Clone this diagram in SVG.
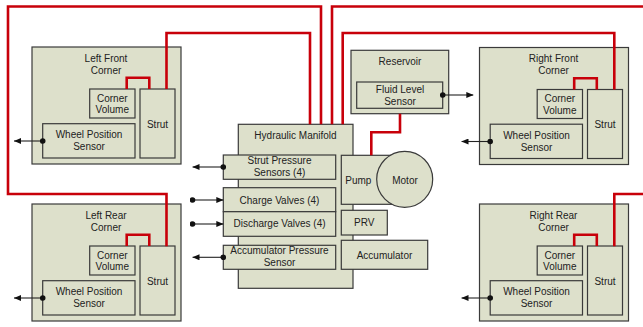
<svg xmlns="http://www.w3.org/2000/svg" width="643" height="327" viewBox="0 0 643 327">
<style>
.b{fill:#dde0cb;stroke:#3a3a3a;stroke-width:1.2}
.t{font-family:"Liberation Sans",Arial,sans-serif;font-size:10px;fill:#222;text-anchor:middle}
.r{fill:none;stroke:#c8000a;stroke-width:2.6;stroke-linejoin:miter}
.s{fill:none;stroke:#222;stroke-width:1.1;marker-start:url(#dot);marker-end:url(#arr)}
</style>
<defs>
<marker id="arr" viewBox="0 0 7 6" refX="7" refY="3" markerWidth="7" markerHeight="6" markerUnits="userSpaceOnUse" orient="auto"><path d="M0,0 L7,3 L0,6 z" fill="#111"/></marker>
<marker id="dot" viewBox="0 0 6 6" refX="3" refY="3" markerWidth="6" markerHeight="6" markerUnits="userSpaceOnUse" orient="auto"><circle cx="3" cy="3" r="2.8" fill="#111"/></marker>
<g id="corner">
<rect class="b" x="32" y="47" width="149" height="117"/>
<rect class="b" x="89.7" y="89" width="45.3" height="29"/>
<text class="t" x="112.3" y="101.5">Corner</text>
<text class="t" x="112.3" y="113">Volume</text>
<rect class="b" x="140" y="89" width="35" height="69"/>
<text class="t" x="157.5" y="127.5">Strut</text>
<rect class="b" x="42.7" y="123.7" width="92.3" height="34.3"/>
<text class="t" x="89" y="138">Wheel Position</text>
<text class="t" x="89" y="150">Sensor</text>
</g>
</defs>
<g id="left-front">
<use href="#corner"/>
<text class="t" x="106" y="61.5">Left Front</text>
<text class="t" x="106" y="73.5">Corner</text>
</g>
<g id="left-rear" transform="translate(0,157)">
<use href="#corner"/>
<text class="t" x="106" y="61.5">Left Rear</text>
<text class="t" x="106" y="73.5">Corner</text>
</g>
<g id="right-front" transform="translate(447.5,0.5)">
<use href="#corner"/>
<text class="t" x="106" y="61.5">Right Front</text>
<text class="t" x="106" y="73.5">Corner</text>
</g>
<g id="right-rear" transform="translate(447.5,157)">
<use href="#corner"/>
<text class="t" x="106" y="61.5">Right Rear</text>
<text class="t" x="106" y="73.5">Corner</text>
</g>
<g id="reservoir">
<rect class="b" x="351" y="50.3" width="97.7" height="63.4"/>
<text class="t" x="400" y="64.8">Reservoir</text>
<rect class="b" x="356.7" y="82" width="86" height="26.3"/>
<text class="t" x="400" y="92.5">Fluid Level</text>
<text class="t" x="400" y="105">Sensor</text>
</g>
<g id="hydraulic-manifold">
<rect class="b" x="238.3" y="124.3" width="114.7" height="164"/>
<text class="t" x="295.5" y="138.5">Hydraulic Manifold</text>
<rect class="b" x="223.3" y="155" width="112.4" height="24.3"/>
<text class="t" x="279.5" y="164">Strut Pressure</text>
<text class="t" x="279.5" y="176">Sensors (4)</text>
<rect class="b" x="223.3" y="187.7" width="112.4" height="24"/>
<text class="t" x="279.5" y="203.5">Charge Valves (4)</text>
<rect class="b" x="223.3" y="211.7" width="112.4" height="24.6"/>
<text class="t" x="279.5" y="227">Discharge Valves (4)</text>
<rect class="b" x="223.3" y="245.3" width="112.4" height="24"/>
<text class="t" x="279.5" y="253.5">Accumulator Pressure</text>
<text class="t" x="279.5" y="266">Sensor</text>
</g>
<g id="pump">
<rect class="b" x="341.3" y="155.3" width="63.7" height="49"/>
<text class="t" x="358.3" y="183.5">Pump</text>
</g>
<g id="motor">
<circle class="b" cx="404.7" cy="179.3" r="28"/>
<text class="t" x="405" y="183.5">Motor</text>
</g>
<g id="prv">
<rect class="b" x="341.3" y="210.3" width="46" height="24.7"/>
<text class="t" x="364.3" y="226">PRV</text>
</g>
<g id="accumulator">
<rect class="b" x="341.3" y="240.3" width="86.4" height="29"/>
<text class="t" x="384.5" y="259">Accumulator</text>
</g>
<g id="connectors">
<path class="r" d="M310,124.3 V33 H166.5 V89"/>
<path class="r" d="M321,124.3 V6.5 H8 V194 H166.5 V246.3"/>
<path class="r" d="M332,124.3 V6.5 H645"/>
<path class="r" d="M342.7,124.3 V33 H614.3 V89.5"/>
<path class="r" d="M614.3,246.3 V194 H645"/>
<path class="r" d="M400,113.7 V132.3 H371.3 V155.3"/>
<path class="r" d="M126.7,89 V77.7 H149.3 V89"/>
<path class="r" d="M126.7,246 V234.7 H149.3 V246"/>
<path class="r" d="M574.2,89.5 V78.2 H596.8 V89.5"/>
<path class="r" d="M574.2,246 V234.7 H596.8 V246"/>
<path class="s" d="M42.7,141 H14"/>
<path class="s" d="M42.7,298 H14"/>
<path class="s" d="M490.2,141.5 H461.5"/>
<path class="s" d="M490.2,298 H461.5"/>
<path class="s" d="M442.7,95 H473.3"/>
<path class="s" d="M223.3,167 H192.5"/>
<path class="s" d="M192.5,200 H223.3"/>
<path class="s" d="M192.5,224 H223.3"/>
<path class="s" d="M223.3,257.3 H192.5"/>
</g>
</svg>
